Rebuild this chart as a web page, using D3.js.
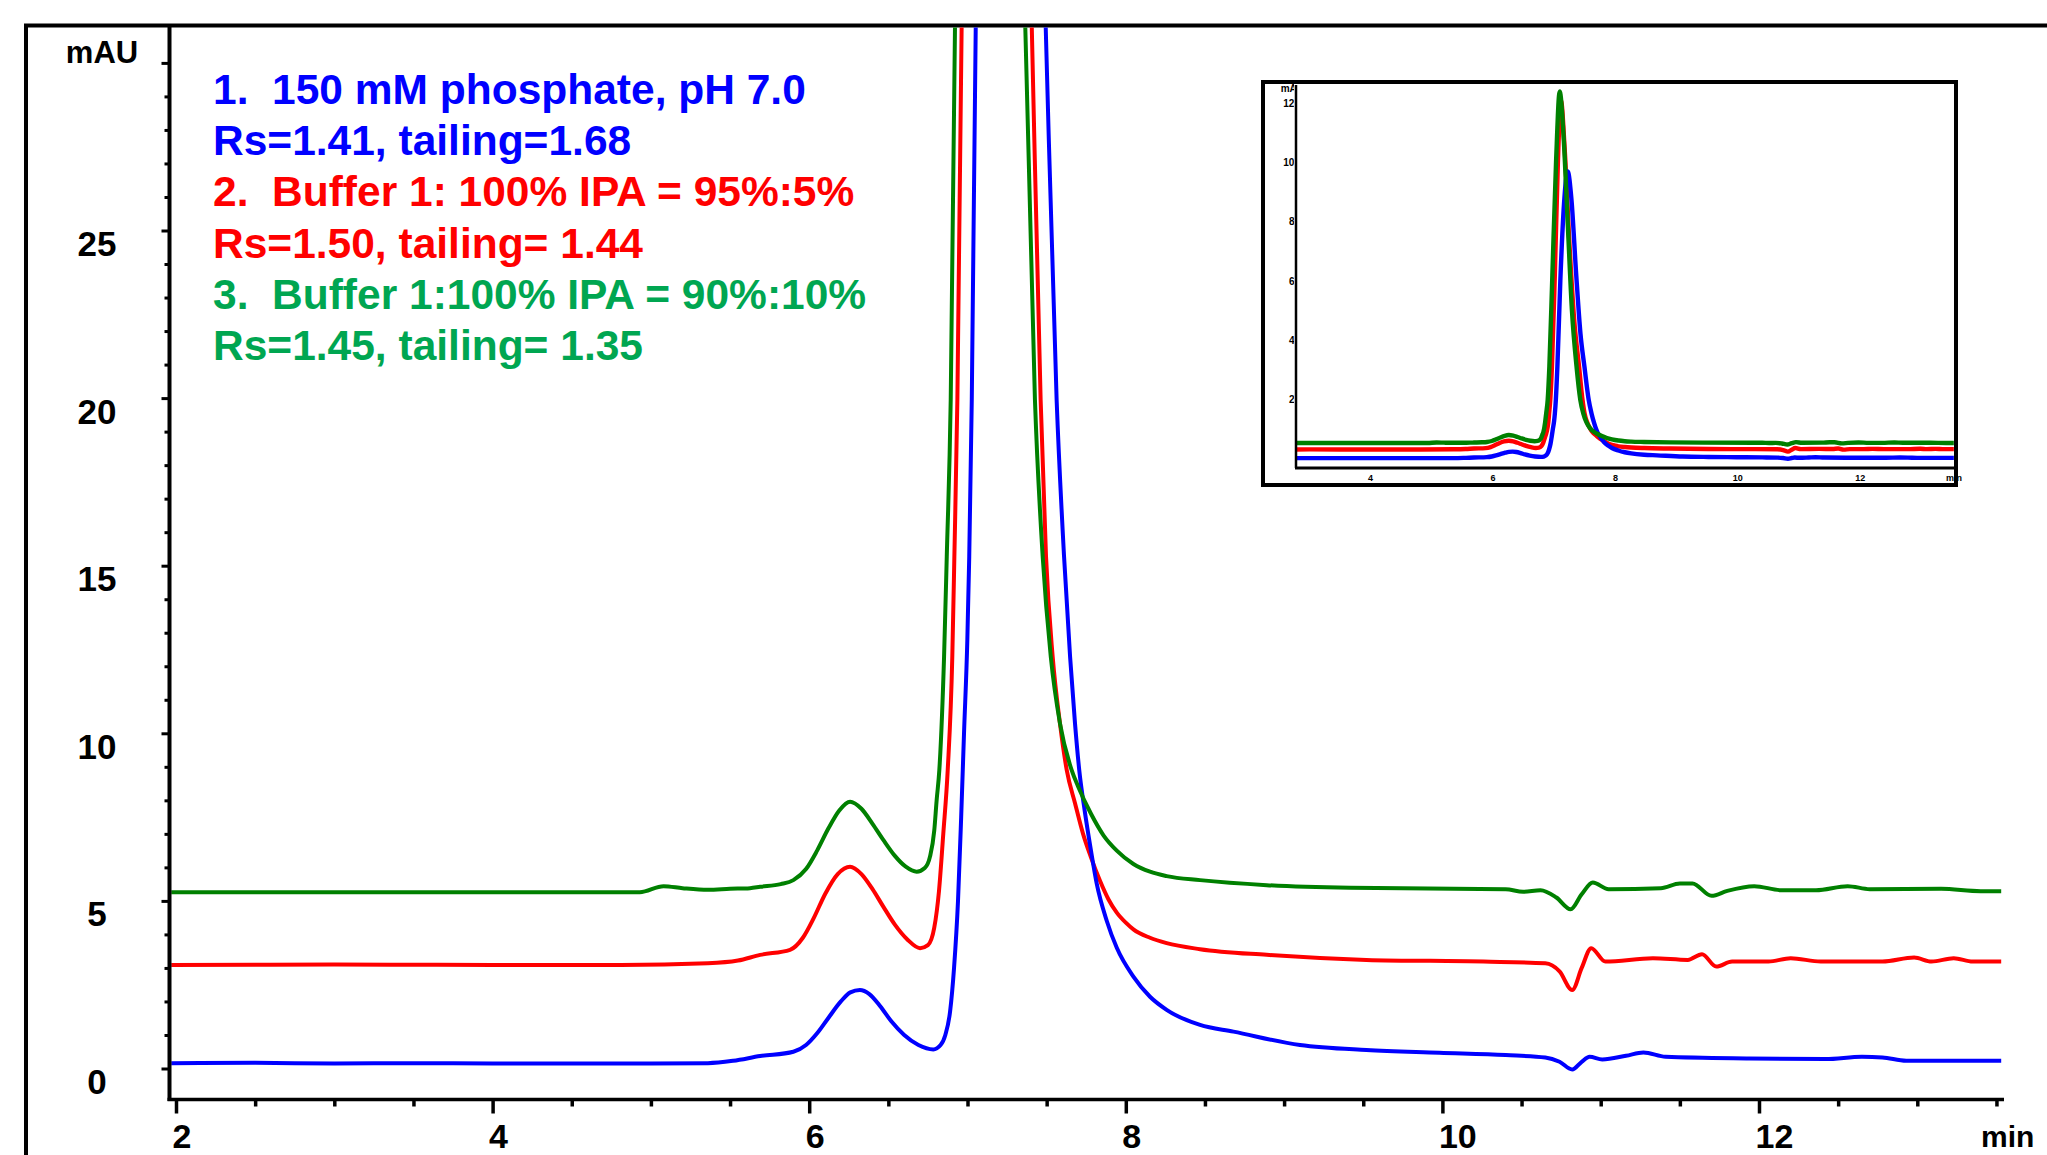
<!DOCTYPE html>
<html>
<head>
<meta charset="utf-8">
<script src="https://cdn.jsdelivr.net/npm/d3@7"></script>
<style>
  html, body { margin: 0; padding: 0; background: #fff; overflow: hidden; }
  svg { display: block; font-family: "Liberation Sans", Arial, sans-serif; }
</style>
</head>
<body>
<script>
// chromatogram traces, [time (min), absorbance (mAU)]
const blueTrace = [
  [1.97, 0.16], [2.5, 0.17], [3.0, 0.15], [3.5, 0.16], [4.0, 0.15], [4.5, 0.15], [5.0, 0.15],
  [5.36, 0.16], [5.52, 0.23], [5.69, 0.37], [5.9, 0.50], [5.98, 0.7], [6.05, 1.05], [6.12, 1.5],
  [6.2, 2.0], [6.26, 2.27], [6.32, 2.34], [6.38, 2.22], [6.45, 1.85], [6.52, 1.4], [6.6, 1.0],
  [6.69, 0.7], [6.784, 0.57], [6.83, 0.7], [6.86, 1.0], [6.89, 1.7], [6.915, 3.0], [6.94, 5.0],
  [6.96, 7.5], [6.978, 10.0], [6.999, 12.8], [7.011, 15.27], [7.027, 19.95], [7.052, 31.08], [7.10, 60],
  [7.16, 86], [7.22, 97], [7.28, 88], [7.36, 62], [7.43, 42], [7.494, 31.08], [7.563, 19.95],
  [7.610, 15.27], [7.648, 12.29], [7.679, 10.3], [7.706, 8.9], [7.74, 7.7], [7.78, 6.5], [7.816, 5.52],
  [7.88, 4.4], [7.943, 3.6], [8.048, 2.74], [8.153, 2.14], [8.258, 1.75], [8.469, 1.30], [8.68, 1.10],
  [9.1, 0.70], [9.52, 0.55], [9.98, 0.47], [10.40, 0.40], [10.65, 0.33], [10.74, 0.2], [10.82, -0.03],
  [10.88, 0.2], [10.93, 0.35], [11.01, 0.27], [11.16, 0.38], [11.27, 0.48], [11.41, 0.35], [11.94, 0.30],
  [12.42, 0.28], [12.65, 0.35], [12.78, 0.33], [12.93, 0.23], [13.53, 0.23]
];

const redTrace = [
  [1.97, 3.09], [3.0, 3.1], [4.0, 3.09], [4.81, 3.09], [5.36, 3.14], [5.55, 3.22], [5.69, 3.39],
  [5.879, 3.54], [5.96, 3.9], [6.03, 4.5], [6.10, 5.2], [6.18, 5.8], [6.258, 6.02], [6.33, 5.8],
  [6.40, 5.35], [6.468, 4.83], [6.54, 4.3], [6.62, 3.85], [6.70, 3.59], [6.75, 3.68], [6.79, 4.2],
  [6.82, 5.3], [6.847, 7.0], [6.875, 8.9], [6.904, 12.29], [6.917, 15.27], [6.936, 19.95], [6.963, 31.08],
  [7.01, 62], [7.06, 100], [7.11, 121], [7.17, 105], [7.25, 72], [7.33, 46], [7.406, 31.08],
  [7.462, 19.95], [7.496, 15.27], [7.538, 12.29], [7.584, 10.3], [7.627, 8.9], [7.68, 7.9], [7.73, 7.0],
  [7.78, 6.3], [7.837, 5.6], [7.89, 5.05], [7.943, 4.65], [8.0, 4.35], [8.048, 4.15], [8.153, 3.9],
  [8.258, 3.74], [8.469, 3.56], [8.89, 3.39], [9.52, 3.24], [10.26, 3.19], [10.65, 3.14], [10.74, 2.9],
  [10.82, 2.34], [10.88, 3.0], [10.94, 3.59], [11.03, 3.19], [11.33, 3.29], [11.55, 3.24], [11.64, 3.41],
  [11.73, 3.04], [11.83, 3.19], [12.06, 3.19], [12.20, 3.29], [12.39, 3.19], [12.78, 3.19], [12.98, 3.31],
  [13.09, 3.19], [13.23, 3.29], [13.35, 3.19], [13.53, 3.19]
];

const greenTrace = [
  [1.97, 5.26], [3.0, 5.26], [4.0, 5.26], [4.93, 5.26], [5.08, 5.44], [5.2, 5.38], [5.36, 5.33],
  [5.5, 5.36], [5.626, 5.38], [5.69, 5.42], [5.82, 5.5], [5.9, 5.62], [5.98, 5.95], [6.05, 6.5],
  [6.12, 7.15], [6.19, 7.7], [6.258, 7.96], [6.33, 7.75], [6.40, 7.3], [6.468, 6.82], [6.54, 6.35],
  [6.61, 6.02], [6.679, 5.87], [6.73, 5.98], [6.763, 6.32], [6.79, 7.1], [6.805, 8.0], [6.822, 8.9],
  [6.852, 12.29], [6.869, 15.27], [6.894, 19.95], [6.921, 31.08], [6.97, 62], [7.03, 100], [7.09, 124],
  [7.15, 110], [7.22, 80], [7.29, 50], [7.365, 31.08], [7.426, 19.95], [7.475, 15.27], [7.526, 12.29],
  [7.584, 10.3], [7.658, 8.9], [7.70, 8.4], [7.78, 7.6], [7.86, 6.95], [7.943, 6.5], [8.048, 6.1],
  [8.153, 5.87], [8.258, 5.74], [8.469, 5.62], [8.89, 5.47], [9.417, 5.39], [10.40, 5.35], [10.51, 5.27],
  [10.62, 5.32], [10.72, 5.1], [10.81, 4.75], [10.88, 5.2], [10.95, 5.55], [11.05, 5.35], [11.38, 5.38],
  [11.50, 5.52], [11.58, 5.52], [11.70, 5.15], [11.80, 5.30], [11.97, 5.44], [12.14, 5.32], [12.36, 5.32],
  [12.56, 5.44], [12.70, 5.35], [13.15, 5.36], [13.40, 5.29], [13.53, 5.29]
];

const legendLines = [
  { text: '1.  150 mM phosphate, pH 7.0', color: '#0000ff' },
  { text: 'Rs=1.41, tailing=1.68', color: '#0000ff' },
  { text: '2.  Buffer 1: 100% IPA = 95%:5%', color: '#ff0000' },
  { text: 'Rs=1.50, tailing= 1.44', color: '#ff0000' },
  { text: '3.  Buffer 1:100% IPA = 90%:10%', color: '#00a651' },
  { text: 'Rs=1.45, tailing= 1.35', color: '#00a651' }
];

const xMajorTicks = [2, 4, 6, 8, 10, 12];
const xMinorTicks = [2.5, 3, 3.5, 4.5, 5, 5.5, 6.5, 7, 7.5, 8.5, 9, 9.5, 10.5, 11, 11.5, 12.5, 13, 13.5];
const yMajorTicks = [0, 5, 10, 15, 20, 25, 30];
const yTickLabels = [0, 5, 10, 15, 20, 25];
const yMinorTicks = d3.range(1, 30).filter(v => v % 5 !== 0);

const insetXTicks = [4, 6, 8, 10, 12];
const insetYTicks = [0, 20, 40, 60, 80, 100, 120];

// series drawn in this order so green lands on top
const series = [
  { data: redTrace, color: '#ff0000' },
  { data: blueTrace, color: '#0000ff' },
  { data: greenTrace, color: '#008000' }
];

const W = 2047, H = 1155;
const svg = d3.select('body').append('svg').attr('width', W).attr('height', H);

// outer frame (runs off right and bottom edges)
svg.append('path')
  .attr('d', 'M26,1170 V25.5 H2060')
  .attr('fill', 'none').attr('stroke', '#000').attr('stroke-width', 4);

// ---------- main chart ----------
const x = d3.scaleLinear().domain([2, 14]).range([176, 176 + 12 * 158.3]);
const y = d3.scaleLinear().domain([0, 30]).range([1068.5, 1068.5 - 30 * 33.52]);

const plotLeft = 169.5, plotRight = 2004, plotTop = 27.5, plotBottom = 1099.5;

svg.append('clipPath').attr('id', 'mainClip')
  .append('rect')
  .attr('x', plotLeft).attr('y', plotTop)
  .attr('width', plotRight - plotLeft).attr('height', plotBottom - plotTop - 2);

const line = d3.line()
  .x(d => x(d[0])).y(d => y(d[1]))
  .curve(d3.curveMonotoneX);

const traces = svg.append('g').attr('clip-path', 'url(#mainClip)');
series.forEach(s => {
  traces.append('path')
    .attr('d', line(s.data))
    .attr('fill', 'none')
    .attr('stroke', s.color)
    .attr('stroke-width', 4)
    .attr('stroke-linejoin', 'round');
});

// y axis
const yAxisG = svg.append('g').attr('transform', `translate(${plotLeft},0)`);
yAxisG.append('g')
  .call(d3.axisLeft(y).tickValues(yMinorTicks).tickSize(5).tickSizeOuter(0).tickFormat(''));
yAxisG.append('g')
  .call(d3.axisLeft(y).tickValues(yMajorTicks).tickSize(8).tickSizeOuter(0)
    .tickFormat(d => yTickLabels.includes(d) ? d : ''));
yAxisG.selectAll('.domain').remove();
yAxisG.selectAll('.tick line').attr('stroke', '#000').attr('stroke-width', 3);
yAxisG.selectAll('.tick text')
  .attr('x', 97 - plotLeft).attr('y', 25).attr('dy', null)
  .attr('text-anchor', 'middle')
  .style('font-size', '35px').style('font-weight', 'bold').style('fill', '#000');
yAxisG.append('line')
  .attr('x1', 0).attr('x2', 0).attr('y1', plotTop - 2).attr('y2', plotBottom + 1.5)
  .attr('stroke', '#000').attr('stroke-width', 4);

// x axis
const xAxisG = svg.append('g').attr('transform', `translate(0,${plotBottom})`);
xAxisG.append('g')
  .call(d3.axisBottom(x).tickValues(xMinorTicks).tickSize(7).tickSizeOuter(0).tickFormat(''));
xAxisG.append('g')
  .call(d3.axisBottom(x).tickValues(xMajorTicks).tickSize(14).tickSizeOuter(0).tickFormat(d => d));
xAxisG.selectAll('.domain').remove();
xAxisG.selectAll('.tick line').attr('stroke', '#000').attr('stroke-width', 3.5);
xAxisG.selectAll('.tick text')
  .attr('x', -4).attr('y', 48).attr('dy', null)
  .attr('text-anchor', 'start')
  .style('font-size', '34px').style('font-weight', 'bold').style('fill', '#000');
xAxisG.append('line')
  .attr('x1', plotLeft - 2).attr('x2', plotRight).attr('y1', 0).attr('y2', 0)
  .attr('stroke', '#000').attr('stroke-width', 3.5);

// axis titles
svg.append('text').attr('x', 102).attr('y', 63).attr('text-anchor', 'middle')
  .style('font-size', '31px').style('font-weight', 'bold').text('mAU');
svg.append('text').attr('x', 1981).attr('y', 1147)
  .style('font-size', '30px').style('font-weight', 'bold').text('min');

// legend text
svg.append('g').selectAll('text')
  .data(legendLines)
  .join('text')
  .attr('x', 213)
  .attr('y', (d, i) => 104 + i * 51.2)
  .attr('fill', d => d.color)
  .style('font-size', '42.5px').style('font-weight', 'bold')
  .style('white-space', 'pre')
  .attr('xml:space', 'preserve')
  .text(d => d.text);

// ---------- inset (full-scale view) ----------
const inset = svg.append('g');
const xi = d3.scaleLinear().domain([4, 12]).range([1370.6, 1370.6 + 8 * 61.2]);
const yi = d3.scaleLinear().domain([0, 120]).range([458.6, 458.6 - 120 * 2.96]);
const iLeft = 1296, iRight = 1954, iTop = 85, iBottom = 468;

inset.append('rect')
  .attr('x', 1263).attr('y', 82).attr('width', 693).attr('height', 403)
  .attr('fill', '#fff').attr('stroke', '#000').attr('stroke-width', 4);

svg.append('clipPath').attr('id', 'insetClip')
  .append('rect').attr('x', iLeft).attr('y', iTop)
  .attr('width', iRight - iLeft).attr('height', iBottom - iTop - 1);

svg.append('clipPath').attr('id', 'insetLabelClip')
  .append('rect').attr('x', 1266).attr('y', 84).attr('width', iLeft - 1266 - 2).attr('height', 390);

const iline = d3.line()
  .x(d => xi(d[0])).y(d => yi(d[1]))
  .curve(d3.curveMonotoneX);

const iTraces = inset.append('g').attr('clip-path', 'url(#insetClip)');
series.forEach(s => {
  iTraces.append('path')
    .attr('d', iline(s.data))
    .attr('fill', 'none')
    .attr('stroke', s.color)
    .attr('stroke-width', 4.4)
    .attr('stroke-linejoin', 'round');
});

inset.append('line')
  .attr('x1', iLeft).attr('x2', iLeft).attr('y1', iTop).attr('y2', iBottom)
  .attr('stroke', '#000').attr('stroke-width', 2.5);
inset.append('line')
  .attr('x1', iLeft - 1).attr('x2', iRight).attr('y1', iBottom).attr('y2', iBottom)
  .attr('stroke', '#000').attr('stroke-width', 3);

const iLabels = inset.append('g').attr('clip-path', 'url(#insetLabelClip)');
iLabels.selectAll('text.iy')
  .data(insetYTicks)
  .join('text')
  .attr('class', 'iy')
  .attr('x', 1300).attr('y', d => yi(d) + 3.5)
  .attr('text-anchor', 'end')
  .style('font-size', '10px').style('font-weight', 'bold')
  .text(d => d);
iLabels.append('text')
  .attr('x', 1304).attr('y', 92).attr('text-anchor', 'end')
  .style('font-size', '10px').style('font-weight', 'bold').text('mAU');

inset.selectAll('text.ix')
  .data(insetXTicks)
  .join('text')
  .attr('class', 'ix')
  .attr('x', d => xi(d)).attr('y', 481)
  .attr('text-anchor', 'middle')
  .style('font-size', '9px').style('font-weight', 'bold')
  .text(d => d);
inset.append('text')
  .attr('x', 1946).attr('y', 481)
  .style('font-size', '9px').style('font-weight', 'bold').text('min');
</script>
</body>
</html>
